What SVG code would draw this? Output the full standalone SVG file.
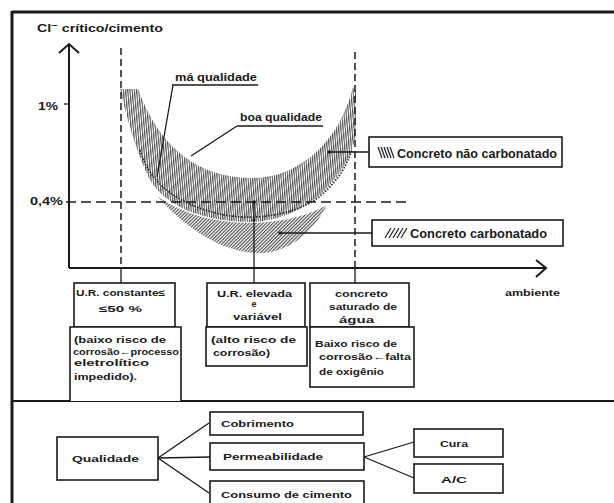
<svg xmlns="http://www.w3.org/2000/svg" width="614" height="503" viewBox="0 0 614 503">
<style>
text{font-family:"Liberation Sans","DejaVu Sans",Arial,sans-serif;font-weight:bold;fill:#1a1a1a}
.t9{font-size:9px}
.t10{font-size:10px}
.t12{font-size:12.5px}
.box{fill:#fff;stroke:#1a1a1a;stroke-width:1.6}
.ln{fill:none;stroke:#1a1a1a;stroke-width:1.3}
.ax{fill:none;stroke:#1a1a1a;stroke-width:2}
.dash{fill:none;stroke:#1a1a1a;stroke-width:1.5;stroke-dasharray:7 4}
.hdash{fill:none;stroke:#1a1a1a;stroke-width:1.5;stroke-dasharray:10 5}
.frame{fill:none;stroke:#1a1a1a;stroke-width:3}
</style>
<defs>
<pattern id="vhatch" width="2.2" height="10" patternUnits="userSpaceOnUse" patternTransform="rotate(-5)">
<line x1="0.6" y1="0" x2="0.6" y2="10" stroke="#333" stroke-width="1"/>
</pattern>
<pattern id="dhatch" width="2.4" height="10" patternUnits="userSpaceOnUse" patternTransform="rotate(45)">
<line x1="0.6" y1="0" x2="0.6" y2="10" stroke="#333" stroke-width="1"/>
</pattern>
</defs>
<rect width="614" height="503" fill="#fff"/>
<g id="frame">
<line class="frame" x1="12" y1="12" x2="614" y2="12"/>
<line class="frame" x1="12" y1="11" x2="12" y2="503"/>
<line class="ax" x1="12" y1="401" x2="614" y2="401"/>
</g>
<g id="chart">
<path d="M157,196 C180,222 215,250 254,253 C285,255 312,235 327,205 C310,215 285,222 253,223 C210,223 180,212 157,196 Z" fill="url(#dhatch)"/>
<path d="M120,89 L138,89 C160,150 200,178 253,178 C300,178 340,140 353,87 L356,90 L356,135 C345,185 300,220 253,222 C200,222 165,205 150,180 C135,150 125,110 120,89 Z" fill="url(#vhatch)"/>
<path d="M140,150 C150,185 180,205 220,214 C250,221 290,216 315,200 C335,185 345,170 352,150" fill="none" stroke="#222" stroke-width="1.6" stroke-dasharray="1.5 1.5"/>
<line class="ax" x1="69" y1="45" x2="69" y2="268"/>
<polyline class="ax" points="59,53 69,44 79,53"/>
<line class="ax" x1="69" y1="268" x2="545" y2="268"/>
<polyline class="ax" points="536,260 546,268 536,277"/>
<line class="ln" x1="64" y1="104" x2="69" y2="104"/>
<line class="hdash" x1="66" y1="202" x2="411" y2="202"/>
<line class="dash" x1="121" y1="48" x2="121" y2="268"/>
<line class="dash" x1="355" y1="52" x2="355" y2="268"/>
<text class="t10" x="37" y="32" textLength="126" lengthAdjust="spacingAndGlyphs">Cl<tspan dy="-4" font-size="8">−</tspan><tspan dy="4"> crítico/cimento</tspan></text>
<text class="t10" x="38" y="110" textLength="20" lengthAdjust="spacingAndGlyphs">1%</text>
<text class="t10" x="30" y="205" textLength="33" lengthAdjust="spacingAndGlyphs">0,4%</text>
<text class="t9" x="505" y="296" textLength="55" lengthAdjust="spacingAndGlyphs">ambiente</text>
</g>
<g id="label-ma-qualidade">
<text class="t10" x="175" y="81" textLength="82" lengthAdjust="spacingAndGlyphs">má qualidade</text>
<line class="ln" x1="172" y1="85" x2="258" y2="85"/>
</g>
<g id="label-boa-qualidade">
<text class="t10" x="240" y="121" textLength="82" lengthAdjust="spacingAndGlyphs">boa qualidade</text>
<line class="ln" x1="237" y1="126" x2="323" y2="126"/>
</g>
<g id="legend-nao-carbonatado">
<rect class="box" x="369" y="137" width="193" height="30"/>
<g stroke="#1a1a1a" stroke-width="1.2">
<line x1="378" y1="147" x2="382" y2="158"/><line x1="381" y1="147" x2="385" y2="158"/><line x1="384" y1="147" x2="388" y2="158"/><line x1="387" y1="147" x2="391" y2="158"/><line x1="390" y1="147" x2="394" y2="158"/>
</g>
<text class="t12" x="397" y="158" textLength="160" lengthAdjust="spacingAndGlyphs">Concreto não carbonatado</text>
</g>
<g id="legend-carbonatado">
<rect class="box" x="372" y="220" width="191" height="26"/>
<g stroke="#1a1a1a" stroke-width="1.2">
<line x1="385" y1="238" x2="391" y2="228"/><line x1="389" y1="238" x2="395" y2="228"/><line x1="393" y1="238" x2="399" y2="228"/><line x1="397" y1="238" x2="403" y2="228"/><line x1="401" y1="238" x2="407" y2="228"/>
</g>
<text class="t12" x="410" y="238" textLength="137" lengthAdjust="spacingAndGlyphs">Concreto carbonatado</text>
</g>
<g id="box-ur-constante">
<rect class="box" x="74" y="283" width="101" height="44"/>
<text class="t9" x="76" y="296" textLength="89" lengthAdjust="spacingAndGlyphs">U.R. constante≤</text>
<text class="t9" x="99" y="312" textLength="43" lengthAdjust="spacingAndGlyphs">≤50 %</text>
</g>
<g id="box-baixo-risco-eletrolitico">
<path class="box" d="M70,401 L70,327 L181,327 L181,401"/>
<text class="t9" x="74" y="343" textLength="92" lengthAdjust="spacingAndGlyphs">(baixo risco de</text>
<text class="t9" x="73" y="355" textLength="106" lengthAdjust="spacingAndGlyphs">corrosão←processo</text>
<text class="t9" x="74" y="366" textLength="75" lengthAdjust="spacingAndGlyphs">eletrolítico</text>
<text class="t9" x="74" y="380" textLength="63" lengthAdjust="spacingAndGlyphs">impedido).</text>
</g>
<g id="box-ur-elevada">
<rect class="box" x="207" y="283" width="98" height="44"/>
<text class="t9" x="217" y="297" textLength="75" lengthAdjust="spacingAndGlyphs">U.R. elevada</text>
<text class="t9" x="254" y="307" font-size="8" text-anchor="middle">e</text>
<text class="t9" x="233" y="320" textLength="49" lengthAdjust="spacingAndGlyphs">variável</text>
</g>
<g id="box-alto-risco">
<rect class="box" x="206" y="327" width="101" height="39"/>
<text class="t9" x="211" y="343" textLength="85" lengthAdjust="spacingAndGlyphs">(alto risco de</text>
<text class="t9" x="213" y="356" textLength="57" lengthAdjust="spacingAndGlyphs">corrosão)</text>
</g>
<g id="box-concreto-saturado">
<rect class="box" x="310" y="283" width="99" height="44"/>
<text class="t9" x="335" y="297" textLength="53" lengthAdjust="spacingAndGlyphs">concreto</text>
<text class="t9" x="329" y="310" textLength="68" lengthAdjust="spacingAndGlyphs">saturado de</text>
<text class="t9" x="339" y="323" textLength="35" lengthAdjust="spacingAndGlyphs">água</text>
</g>
<g id="box-baixo-risco-oxigenio">
<rect class="box" x="310" y="327" width="104" height="60"/>
<text class="t9" x="315" y="347" textLength="82" lengthAdjust="spacingAndGlyphs">Baixo risco de</text>
<text class="t9" x="319" y="360" textLength="92" lengthAdjust="spacingAndGlyphs">corrosão←falta</text>
<text class="t9" x="319" y="375" textLength="65" lengthAdjust="spacingAndGlyphs">de oxigênio</text>
</g>
<g id="node-qualidade">
<rect class="box" x="57" y="437" width="101" height="43"/>
<text class="t9" x="72" y="462" textLength="67" lengthAdjust="spacingAndGlyphs">Qualidade</text>
</g>
<g id="node-cobrimento">
<rect class="box" x="210" y="412" width="153" height="23"/>
<text class="t9" x="221" y="427" textLength="73" lengthAdjust="spacingAndGlyphs">Cobrimento</text>
</g>
<g id="node-permeabilidade">
<rect class="box" x="210" y="443" width="154" height="27"/>
<text class="t9" x="223" y="460" textLength="100" lengthAdjust="spacingAndGlyphs">Permeabilidade</text>
</g>
<g id="node-consumo">
<rect class="box" x="210" y="481" width="154" height="26"/>
<text class="t9" x="221" y="498" textLength="131" lengthAdjust="spacingAndGlyphs">Consumo de cimento</text>
</g>
<g id="node-cura">
<rect class="box" x="414" y="429" width="89" height="28"/>
<text class="t9" x="440" y="447" textLength="28" lengthAdjust="spacingAndGlyphs">Cura</text>
</g>
<g id="node-ac">
<rect class="box" x="414" y="464" width="89" height="29"/>
<text class="t9" x="441" y="483" textLength="26" lengthAdjust="spacingAndGlyphs">A/C</text>
</g>
<g id="connectors">
<line class="ln" x1="173" y1="85" x2="157" y2="177"/>
<line class="ln" x1="237" y1="126" x2="191" y2="156"/>
<line class="ln" x1="329" y1="152" x2="369" y2="152"/>
<circle cx="329" cy="152" r="1.8" fill="#1a1a1a"/>
<line class="ln" x1="280" y1="233" x2="372" y2="233"/>
<circle cx="280" cy="233" r="1.8" fill="#1a1a1a"/>
<line class="ln" x1="121" y1="268" x2="121" y2="283"/>
<line class="ln" x1="254" y1="202" x2="254" y2="283"/>
<circle cx="254" cy="202" r="1.8" fill="#1a1a1a"/>
<circle cx="254" cy="220" r="1.5" fill="#1a1a1a"/>
<line class="ln" x1="355" y1="268" x2="355" y2="283"/>
<line class="ln" x1="158" y1="458" x2="209" y2="423"/>
<line class="ln" x1="158" y1="458" x2="210" y2="457"/>
<line class="ln" x1="158" y1="458" x2="209" y2="493"/>
<line class="ln" x1="364" y1="457" x2="414" y2="442"/>
<line class="ln" x1="364" y1="457" x2="414" y2="478"/>
</g>
</svg>
